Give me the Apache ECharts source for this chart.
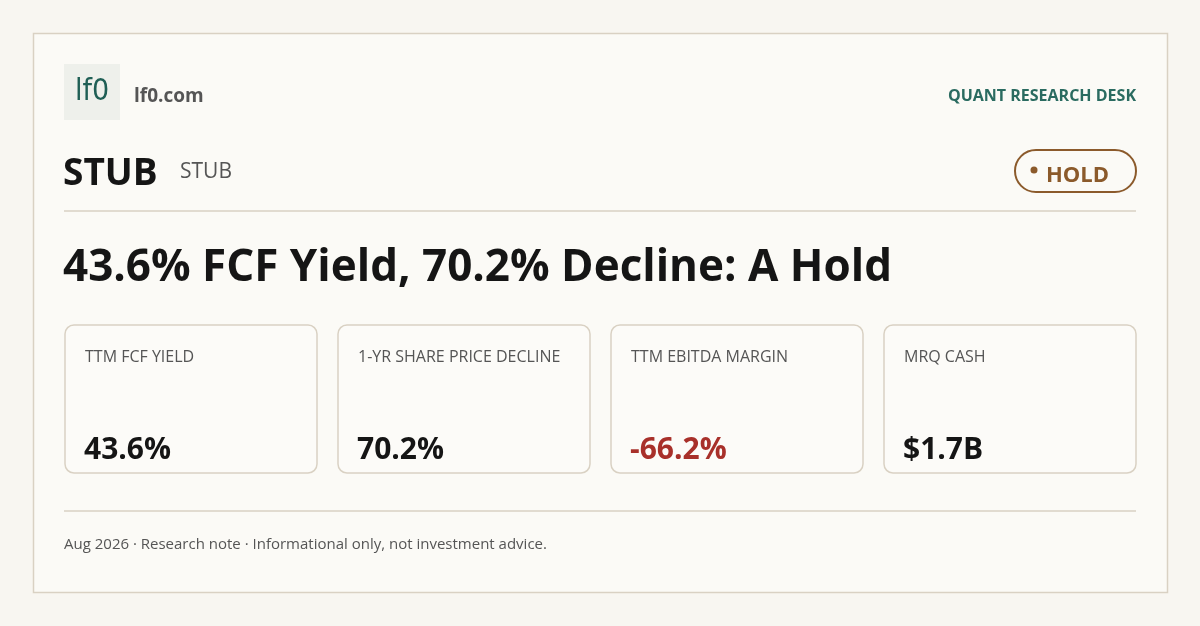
<!DOCTYPE html>
<html><head><meta charset="utf-8">
<script src="https://cdn.jsdelivr.net/npm/echarts@6/dist/echarts.min.js"></script>
<style>html,body{margin:0;padding:0;background:#f8f6f1}#c{width:1200px;height:626px}</style>
</head><body><div id="c"></div>
<script>
const brand = "lf0.com";
const desk = "QUANT RESEARCH DESK";
const ticker = "STUB";
const tickerSub = "STUB";
const rating = "HOLD";
const headline = "43.6% FCF Yield, 70.2% Decline: A Hold";
const metricLabels = ["TTM FCF YIELD", "1-YR SHARE PRICE DECLINE", "TTM EBITDA MARGIN", "MRQ CASH"];
const metricValues = ["43.6%", "70.2%", "-66.2%", "$1.7B"];
const footer = "Aug 2026 · Research note · Informational only, not investment advice.";

const F = '"Open Sans","Noto Sans",sans-serif';
const chart = echarts.init(document.getElementById('c'), null, {renderer: 'canvas'});
const els = [
  {type:'rect', shape:{x:33.5,y:33.5,width:1134,height:559}, style:{fill:'#fbfaf6',stroke:'#d9d1c3',lineWidth:1.5}},
  {type:'rect', shape:{x:64,y:64,width:56,height:56}, style:{fill:'#eef0eb'}},
  {type:'text', x:92, y:92, style:{text:'lf0',font:'500 30px "DejaVu Sans Condensed",sans-serif',fill:'#1f5f55',align:'center',verticalAlign:'middle'}},
  {type:'text', x:134, y:97, style:{text:brand,font:'bold 19px '+F,fill:'#555',verticalAlign:'middle'}},
  {type:'text', x:1136, y:96, style:{text:desk,font:'bold 16px '+F,fill:'#2a6b60',align:'right',verticalAlign:'middle'}},
  {type:'text', x:63, y:174, style:{text:ticker,font:'bold 37px '+F,fill:'#151515',verticalAlign:'middle'}},
  {type:'text', x:180, y:172, style:{text:tickerSub,font:'21px '+F,fill:'#555',verticalAlign:'middle'}},
  {type:'rect', shape:{x:1015,y:150,width:121,height:42,r:21}, style:{fill:'none',stroke:'#8b5a2b',lineWidth:2}},
  {type:'circle', shape:{cx:1034,cy:170,r:3.5}, style:{fill:'#8b5a2b'}},
  {type:'text', x:1046, y:176, style:{text:rating,font:'bold 22px '+F,fill:'#8b5a2b',verticalAlign:'middle'}},
  {type:'line', shape:{x1:64,y1:211,x2:1136,y2:211}, style:{stroke:'#d9d1c3',lineWidth:1.5}},
  {type:'text', x:63, y:268, style:{text:headline,font:'bold 44px '+F,fill:'#151515',verticalAlign:'middle'}},
  {type:'line', shape:{x1:64,y1:511,x2:1136,y2:511}, style:{stroke:'#d9d1c3',lineWidth:1.5}},
  {type:'text', x:64, y:545, style:{text:footer,font:'15px '+F,fill:'#555',verticalAlign:'middle'}}
];
metricLabels.forEach((lab,i)=>{
  const x = 65 + i*273;
  els.push({type:'rect', shape:{x:x,y:325,width:252,height:148,r:9}, style:{fill:'#fcfbf8',stroke:'#d9d1c3',lineWidth:1.5}});
  els.push({type:'text', x:x+20, y:357, style:{text:lab,font:'16px '+F,fill:'#555',verticalAlign:'middle'}});
  const v = metricValues[i];
  els.push({type:'text', x:x+19, y:450, style:{text:v,font:'bold 30px '+F,fill:v.startsWith('-')?'#a8302a':'#151515',verticalAlign:'middle'}});
});
chart.setOption({backgroundColor:'#f8f6f1', graphic:{elements:els}});
</script></body></html>
